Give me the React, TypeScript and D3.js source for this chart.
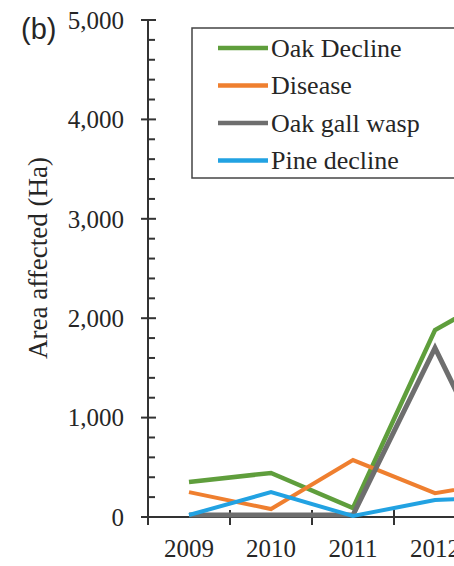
import React from "react";
import * as d3 from "d3";

const years = ["2009", "2010", "2011", "2012", "2013"];
const oakDecline = [352, 443, 90, 1880, 2350];
const disease = [250, 80, 573, 240, 380];
const oakGallWasp = [20, 20, 20, 1700, 20];
const pineDecline = [20, 250, 10, 170, 210];
const yTicks = [0, 1000, 2000, 3000, 4000, 5000];
const seriesNames = ["Oak Decline", "Disease", "Oak gall wasp", "Pine decline"];
const seriesColors = ["#5f9e3c", "#ef7f2f", "#6e6e6e", "#22a2e2"];
const seriesWidths = [4.5, 4, 5, 4];

export default function App() {
  const W = 454, H = 566;
  const x = d3.scaleBand().domain(years).range([148, 148 + 82 * years.length]);
  const y = d3.scaleLinear().domain([0, 5000]).range([517, 20]);
  const minor = d3.range(0, 5001, 200).filter((v) => v % 1000 !== 0);
  const data = [oakDecline, disease, oakGallWasp, pineDecline];
  const line = d3
    .line<number>()
    .x((_, i) => (x(years[i]) as number) + x.bandwidth() / 2)
    .y((d) => y(d));
  const fmt = d3.format(",");
  const serif = "'Liberation Serif', 'Times New Roman', serif";
  const ink = "#262626";
  return (
    <svg
      width={W}
      height={H}
      style={{ position: "absolute", left: 0, top: 0, background: "#fff" }}
    >
      <rect x={0} y={0} width={W} height={H} fill="#fff" />
      {/* y axis */}
      <line x1={148} x2={148} y1={y(5000)} y2={y(0) + 8} stroke="#333" strokeWidth={2} />
      {yTicks.map((t) => (
        <g key={t}>
          <line x1={141} x2={156} y1={y(t)} y2={y(t)} stroke="#333" strokeWidth={2} />
          <text
            x={124}
            y={y(t)}
            dy="0.35em"
            textAnchor="end"
            fontFamily={serif}
            fontSize={25}
            fill={ink}
          >
            {fmt(t)}
          </text>
        </g>
      ))}
      {minor.map((t) => (
        <line key={t} x1={148} x2={155} y1={y(t)} y2={y(t)} stroke="#333" strokeWidth={2} />
      ))}
      {/* x axis */}
      <line x1={148} x2={W + 10} y1={y(0)} y2={y(0)} stroke="#333" strokeWidth={2} />
      {years.slice(1).map((yr) => (
        <line
          key={yr}
          x1={x(yr) as number}
          x2={x(yr) as number}
          y1={y(0) - 7}
          y2={y(0) + 8}
          stroke="#333"
          strokeWidth={2}
        />
      ))}
      {years.map((yr) => (
        <text
          key={yr}
          x={(x(yr) as number) + x.bandwidth() / 2}
          y={557}
          textAnchor="middle"
          fontFamily={serif}
          fontSize={25}
          fill={ink}
        >
          {yr}
        </text>
      ))}
      {/* series */}
      {data.map((d, i) => (
        <path
          key={i}
          d={line(d) as string}
          fill="none"
          stroke={seriesColors[i]}
          strokeWidth={seriesWidths[i]}
          strokeLinejoin="miter"
        />
      ))}
      {/* y label */}
      <text
        transform="translate(47,258) rotate(-90)"
        textAnchor="middle"
        fontFamily={serif}
        fontSize={27}
        fill={ink}
      >
        Area affected (Ha)
      </text>
      <text x={21} y={39} fontFamily="'Liberation Sans', Arial, sans-serif" fontSize={29} fill={ink}>
        (b)
      </text>
      {/* legend */}
      <rect x={192} y={28} width={300} height={150} fill="#fff" stroke="#444" strokeWidth={1.5} />
      {seriesNames.map((n, i) => {
        const ly = 48 + i * 37.5;
        return (
          <g key={n}>
            <line x1={218} x2={268} y1={ly} y2={ly} stroke={seriesColors[i]} strokeWidth={4.5} />
            <text x={271} y={ly} dy="0.33em" fontFamily={serif} fontSize={26} fill={ink}>
              {n}
            </text>
          </g>
        );
      })}
    </svg>
  );
}
